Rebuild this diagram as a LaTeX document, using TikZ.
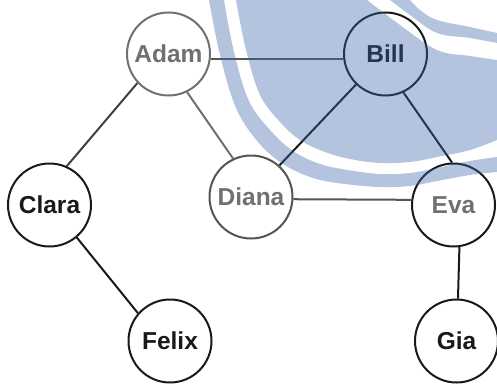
\documentclass[tikz,border=0pt]{standalone}
\usepackage{fontspec}
\setmainfont{Liberation Sans}
\definecolor{softgray}{RGB}{112,112,112}
\definecolor{midgray}{RGB}{85,85,85}
\definecolor{inkdark}{RGB}{25,25,25}
\definecolor{wmblue}{RGB}{60,100,168}
\begin{document}
\begin{tikzpicture}[x=1pt,y=-1pt,
  person/.style={circle, draw=inkdark, text=inkdark, line width=2pt, minimum size=83pt, inner sep=0pt,
    font=\bfseries\fontsize{24.5}{26}\selectfont},
  grayperson/.style={person, draw=softgray, text=softgray},
  link/.style={line width=2pt, draw=inkdark},
  graylink/.style={line width=2pt, draw=softgray},
  watermark/.style={fill=wmblue, fill opacity=0.38}]
\useasboundingbox (0,0) rectangle (497,383);
% nodes
\node[grayperson] (Adam) at (168.5,54) {Adam};
\node[person] (Bill) at (385.5,54) {Bill};
\node[person] (Clara) at (49.5,205) {Clara};
\node[grayperson, draw=midgray] (Diana) at (251,197) {Diana};
\node[person, text=softgray] (Eva) at (453.5,205) {Eva};
\node[person] (Felix) at (170,341) {Felix};
\node[person] (Gia) at (456.5,341) {Gia};
% edges
\draw[graylink, draw=midgray] (Adam.-7) -- (Bill.187);
\draw[link, draw=black!75] (Adam.223) -- (Clara.66);
\draw[graylink] (Adam.-64) -- (Diana.115);
\draw[link] (Bill.226) -- (Diana.48);
\draw[link] (Bill.-65) -- (Eva.92);
\draw[graylink, draw=midgray] (Diana.-3) -- (Eva.173);
\draw[link] (Clara.-50) -- (Felix.139);
\draw[link] (Eva.-82) -- (Gia.88);
% watermark overlay
\begin{scope}
\clip (0,0) rectangle (497,383);
% outer band (ring between outer edge and gap)
\fill[watermark, even odd rule]
  (206,-10) -- plot[smooth, tension=0.6] coordinates {(209,0) (220,55) (236,108) (258,142) (283,164) (313,178) (345,184) (380,187) (410,186) (437,181) (470,175) (497,172)}
  -- (510,170) -- (510,30) --
  plot[smooth, tension=0.6] coordinates {(497,33) (470,27) (437,20) (420,10) (410,0)} -- (408,-10) -- cycle
  (221,-10) -- plot[smooth, tension=0.6] coordinates {(224,0) (234,52) (249,101) (271,131) (293,151) (320,164) (348,170) (380,174) (410,173) (437,168) (470,161) (497,157)}
  -- (510,156) -- (510,42) --
  plot[smooth, tension=0.6] coordinates {(497,43) (470,38) (437,33) (410,15) (390,0)} -- (385,-10) -- cycle;
% inner disc
\fill[watermark]
  (234,-10) -- plot[smooth, tension=0.6] coordinates {(236,0) (246,50) (260,95) (280,122) (300,140) (325,152) (350,159) (380,163) (410,162) (437,157) (470,150) (497,140)}
  -- (510,136) -- (510,61) --
  plot[smooth, tension=0.6] coordinates {(497,60) (470,56) (437,50) (400,25) (367,0)} -- (360,-10) -- cycle;
\end{scope}
\end{tikzpicture}
\end{document}
